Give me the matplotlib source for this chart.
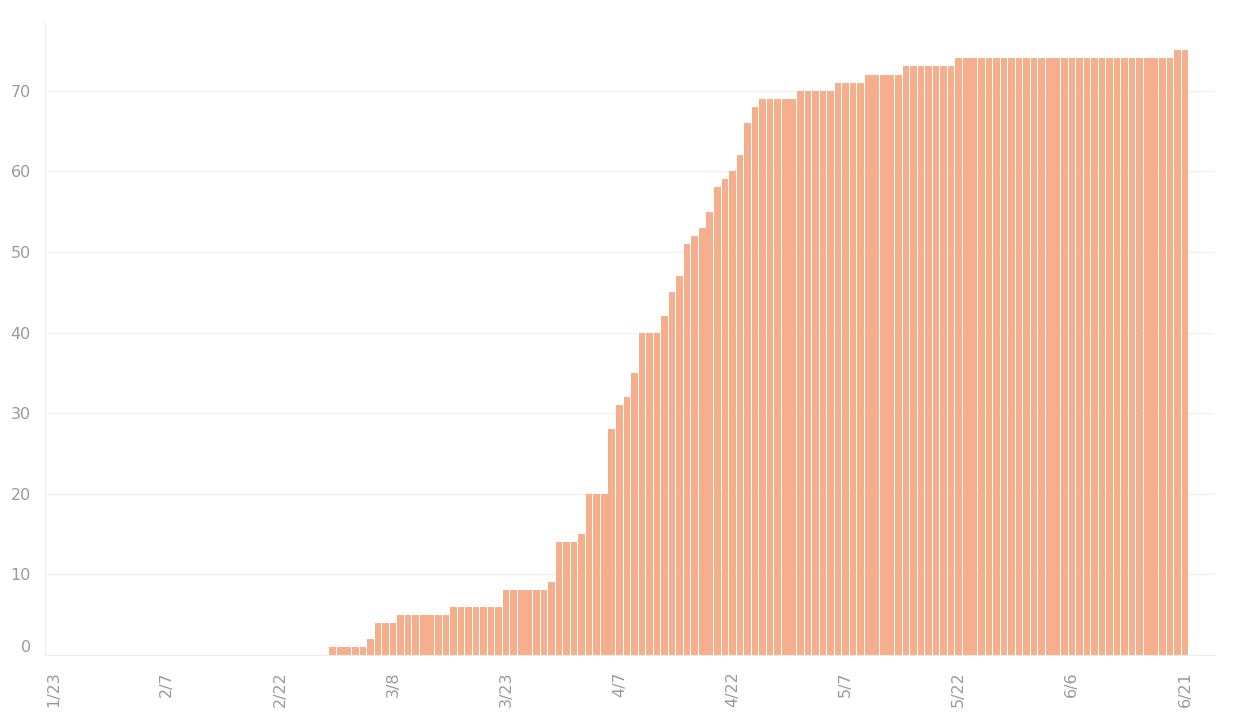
import matplotlib
matplotlib.use("Agg")
import matplotlib.pyplot as plt
import pandas as pd

# cumulative count per day, 2/29 .. 6/21 (2020)
first_day = "2020-02-29"
last_day = "2020-06-21"
values = [1, 1, 1, 1, 1, 2, 4, 4, 4,
          5, 5, 5, 5, 5, 5, 5,
          6, 6, 6, 6, 6, 6, 6,
          8, 8, 8, 8, 8, 8, 9,
          14, 14, 14, 15, 20, 20, 20,
          28, 31, 32, 35, 40, 40, 40,
          42, 45, 47, 51, 52, 53, 55, 58, 59, 60, 62, 66, 68,
          69, 69, 69, 69, 69,
          70, 70, 70, 70, 70,
          71, 71, 71, 71,
          72, 72, 72, 72, 72,
          73, 73, 73, 73, 73, 73, 73,
          74, 74, 74, 74, 74, 74, 74, 74, 74, 74,
          74, 74, 74, 74, 74, 74, 74, 74, 74, 74,
          74, 74, 74, 74, 74, 74, 74, 74, 74,
          75, 75]

tick_dates = ["2020-01-23", "2020-02-07", "2020-02-22", "2020-03-08",
              "2020-03-23", "2020-04-07", "2020-04-22", "2020-05-07",
              "2020-05-22", "2020-06-06", "2020-06-21"]
tick_labels = ["1/23", "2/7", "2/22", "3/8", "3/23", "4/7",
               "4/22", "5/7", "5/22", "6/6", "6/21"]
y_ticks = [0, 10, 20, 30, 40, 50, 60, 70]

dates = pd.date_range(first_day, last_day, freq="D")
start = pd.Timestamp(tick_dates[0])
x = (dates - start).days
tx = (pd.to_datetime(tick_dates) - start).days

fig = plt.figure(figsize=(12.45, 7.15), dpi=100)
ax = fig.add_axes([0.036, 0.084, 0.94, 0.885])

ax.bar(x, values, width=0.88, color="#f6af8c", edgecolor="none", zorder=2)

ax.set_xlim(-1.17, 154.0)
ax.set_ylim(0, 78.5)

ax.set_yticks(y_ticks)
ax.set_yticklabels([str(v) for v in y_ticks])
ax.set_xticks(tx)
ax.set_xticklabels(tick_labels, rotation=90)

ax.grid(axis="y", color="#f1f1f1", linewidth=1, zorder=0)
ax.grid(axis="x", visible=False)
for s in ["top", "right"]:
    ax.spines[s].set_visible(False)
ax.spines["left"].set_color("#eeeeee")
ax.spines["bottom"].set_color("#eeeeee")

ax.tick_params(axis="both", length=0, labelsize=11.5, labelcolor="#9a9a9a")
ax.tick_params(axis="y", pad=10)
ax.tick_params(axis="x", pad=12)

# tableau-style: bottom label sits above the baseline
ax.get_yticklabels()[0].set_va("bottom")

fig.savefig("out.png", dpi=100)
